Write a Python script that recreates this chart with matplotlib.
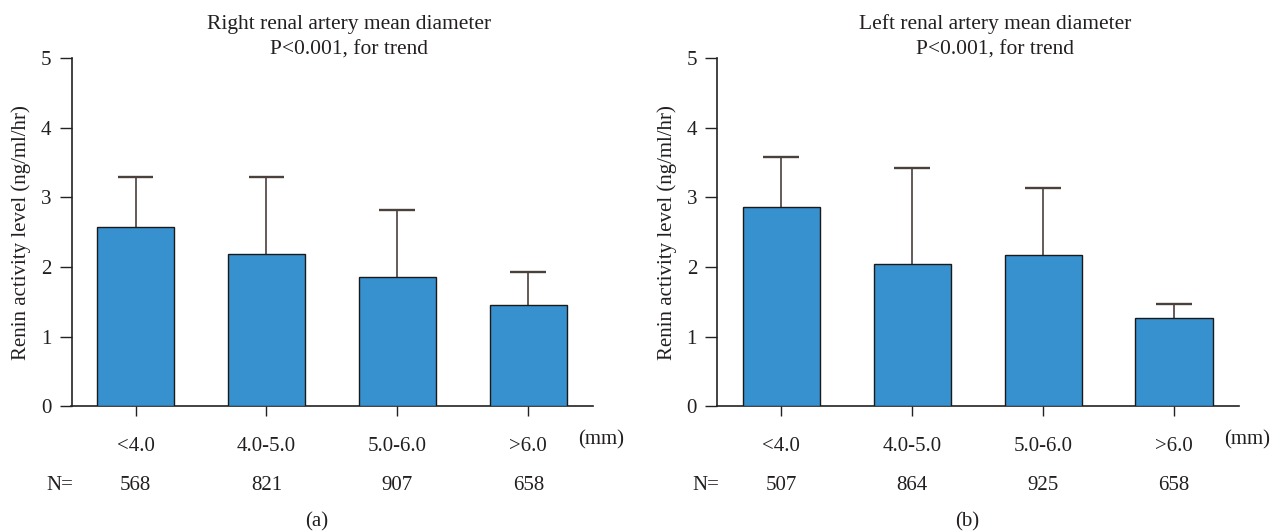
import matplotlib
matplotlib.use("Agg")
import matplotlib.pyplot as plt
import numpy as np

plt.rcParams['font.family'] = ['Liberation Serif', 'DejaVu Serif']

categories = ["<4.0", "4.0-5.0", "5.0-6.0", ">6.0"]

right_title = "Right renal artery mean diameter\nP<0.001, for trend"
right_means = [2.58, 2.19, 1.86, 1.46]
right_upper = [3.29, 3.29, 2.82, 1.93]
right_n = [568, 821, 907, 658]

left_title = "Left renal artery mean diameter\nP<0.001, for trend"
left_means = [2.86, 2.04, 2.17, 1.27]
left_upper = [3.58, 3.42, 3.14, 1.47]
left_n = [507, 864, 925, 658]

ylabel = "Renin activity level (ng/ml/hr)"
yticks = [0, 1, 2, 3, 4, 5]

W, H = 1285, 531
fig = plt.figure(figsize=(W / 100, H / 100), dpi=100)

TXT = '#231f20'
BAR = '#3791cf'
ERR = '#4a403c'
FS = 15

panels = [
    (71.5, right_title, right_means, right_upper, right_n, "(a)", 349, 317),
    (717.3, left_title, left_means, left_upper, left_n, "(b)", 995, 967),
]

for (x0, title, means, upper, ns, tag, title_x, tag_x) in panels:
    ax = fig.add_axes([x0 / W, 1 - 406.4 / H, 521.5 / W, 348.5 / H])
    x = np.arange(len(categories))
    means = np.array(means)
    upper = np.array(upper)
    ax.bar(x, means, width=0.59, color=BAR, edgecolor='#1a1a1a', linewidth=1.0, zorder=3)
    ax.vlines(x, means, upper, colors=ERR, linewidth=1.2, zorder=2)
    ax.hlines(upper, x - 0.137, x + 0.137, colors=ERR, linewidth=1.7, zorder=2)
    ax.set_xlim(-0.489, 3.494)
    ax.set_ylim(0, 5)
    ax.set_yticks(yticks)
    ax.set_yticklabels([str(v) for v in yticks], fontsize=FS, color=TXT)
    ax.set_xticks(x)
    ax.set_xticklabels(categories, fontsize=FS, color=TXT)
    ax.tick_params(axis='y', length=8.6, width=1.0, pad=6, colors='#222222', labelcolor=TXT)
    ax.tick_params(axis='x', length=7.2, width=1.0, pad=14.5, colors='#222222', labelcolor=TXT)
    for s in ['top', 'right']:
        ax.spines[s].set_visible(False)
    for s in ['left', 'bottom']:
        ax.spines[s].set_linewidth(1.2)
        ax.spines[s].set_color('#222222')
    ax.set_ylabel(ylabel, fontsize=FS, color=TXT, labelpad=7)

    tr = ax.get_xaxis_transform()
    ax.text(3.556, (406.4 - 440) / 348.5, "(mm)", transform=tr, ha='center', va='center',
            fontsize=FS, color=TXT)
    ax.text(-0.58, (406.4 - 486) / 348.5, "N=", transform=tr, ha='center', va='center',
            fontsize=FS, color=TXT)
    for xi, n in zip(x, ns):
        ax.text(xi, (406.4 - 486) / 348.5, str(n), transform=tr, ha='center', va='center',
                fontsize=FS, color=TXT)

    fig.text(title_x / W, 1 - 37 / H, title, ha='center', va='center', fontsize=15.5,
             color=TXT, linespacing=1.45)
    fig.text(tag_x / W, 1 - 522 / H, tag, ha='center', va='center', fontsize=FS, color=TXT)

fig.savefig("out.png", dpi=100)
